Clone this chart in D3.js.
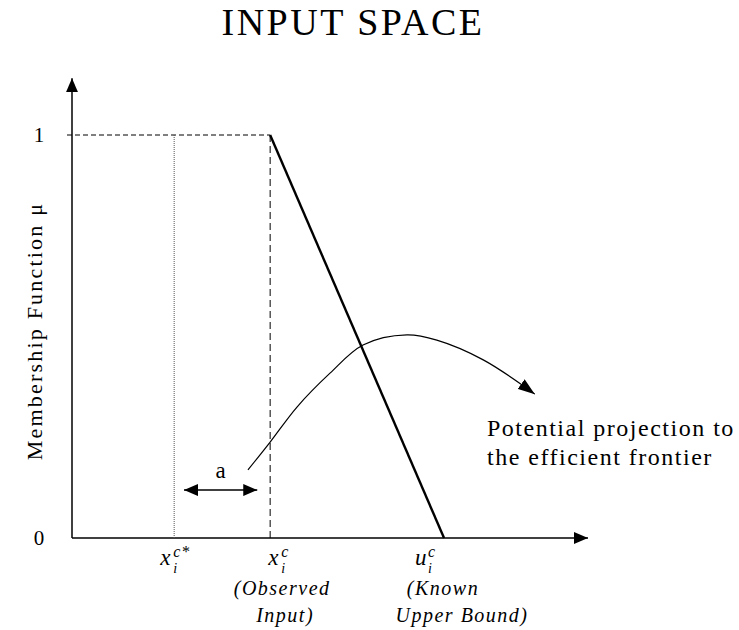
<!DOCTYPE html>
<html>
<head>
<meta charset="utf-8">
<script src="https://cdn.jsdelivr.net/npm/d3@7"></script>
<style>
  body { margin: 0; background: #fff; }
  text { font-family: "Liberation Serif", "Times New Roman", serif; fill: #000; }
</style>
</head>
<body>
<svg id="chart" width="739" height="630"></svg>
<script>
// membership levels shown on the y axis
var yTicks = [0, 1];
// input positions on the x axis (arbitrary input units)
var inputNames = ["xStar", "xObs", "uBound"];
var inputValues = [19.8, 38.4, 72.1];
// the membership function: flat at 1 up to the observed input, then falling to 0 at the upper bound
var muX = [0, 38.4, 72.1];
var muY = [1, 1, 0];
// the projection path towards the efficient frontier
var pathX = [34.1, 38.4, 43.6, 50.0, 56.4, 64.9, 70.7, 79.7, 89.7];
var pathY = [0.169, 0.238, 0.325, 0.409, 0.479, 0.504, 0.491, 0.442, 0.357];
// the distance "a" between the projected and the observed input
var gapX = [21.7, 35.9];
var gapY = 0.119;

var svg = d3.select("#chart");

var x = d3.scaleLinear().domain([0, 100]).range([72, 588]);
var y = d3.scaleLinear().domain([0, 1]).range([538, 135]);

/* arrow heads */
var defs = svg.append("defs");
function head(id, len, wid, orient) {
  defs.append("marker").attr("id", id)
    .attr("viewBox", "0 0 " + len + " " + wid).attr("refX", len).attr("refY", wid / 2)
    .attr("markerUnits", "userSpaceOnUse").attr("markerWidth", len).attr("markerHeight", wid)
    .attr("orient", orient)
    .append("path").attr("d", "M0,0L" + len + "," + (wid / 2) + "L0," + wid + "Z").attr("fill", "#000");
}
head("axisHead", 14, 12, "auto");
head("gapHead", 14, 12, "auto-start-reverse");
head("pathHead", 17, 12, "auto");

/* title */
svg.append("text").attr("x", 353).attr("y", 35).attr("text-anchor", "middle")
  .attr("font-size", 38).attr("letter-spacing", 2.5).text("INPUT SPACE");

/* axes */
svg.append("line").attr("x1", x(0)).attr("y1", y(0)).attr("x2", x(0)).attr("y2", y(1.141))
  .attr("stroke", "#000").attr("stroke-width", 1.5).attr("marker-end", "url(#axisHead)");
svg.append("line").attr("x1", x(0)).attr("y1", y(0)).attr("x2", x(100)).attr("y2", y(0))
  .attr("stroke", "#000").attr("stroke-width", 1.5).attr("marker-end", "url(#axisHead)");

svg.selectAll(".ytick").data(yTicks).enter().append("text")
  .attr("class", "ytick")
  .attr("x", 39).attr("y", function(d) { return y(d) + 7; })
  .attr("text-anchor", "middle").attr("font-size", 21)
  .text(function(d) { return d; });

svg.append("text")
  .attr("transform", "translate(42,331) rotate(-90)")
  .attr("text-anchor", "middle").attr("font-size", 22).attr("letter-spacing", 2.2)
  .text("Membership Function \u03bc");

/* guide lines */
svg.append("line").attr("x1", x(0) - 5).attr("y1", y(1)).attr("x2", x(muX[1])).attr("y2", y(1))
  .attr("stroke", "#000").attr("stroke-width", 1).attr("stroke-dasharray", "5,3");
svg.append("line").attr("x1", x(inputValues[1])).attr("y1", y(1)).attr("x2", x(inputValues[1])).attr("y2", y(0))
  .attr("stroke", "#000").attr("stroke-width", 1).attr("stroke-dasharray", "7,4");
svg.append("line").attr("x1", x(inputValues[0])).attr("y1", y(1)).attr("x2", x(inputValues[0])).attr("y2", y(0))
  .attr("stroke", "#555").attr("stroke-width", 1).attr("stroke-dasharray", "1,1");

/* membership function descent */
svg.append("line").attr("x1", x(muX[1])).attr("y1", y(muY[1])).attr("x2", x(muX[2])).attr("y2", y(muY[2]))
  .attr("stroke", "#000").attr("stroke-width", 2.4);

/* projection path */
var pts = pathX.map(function(v, i) { return [x(v), y(pathY[i])]; });
svg.append("path").attr("d", d3.line().curve(d3.curveCatmullRom)(pts))
  .attr("fill", "none").attr("stroke", "#000").attr("stroke-width", 1.2)
  .attr("marker-end", "url(#pathHead)");

svg.append("text").attr("x", 487).attr("y", 436).attr("font-size", 24)
  .attr("letter-spacing", 1.5).text("Potential projection to");
svg.append("text").attr("x", 487).attr("y", 465).attr("font-size", 24)
  .attr("letter-spacing", 1.5).text("the efficient frontier");

/* gap a */
svg.append("line").attr("x1", x(gapX[0])).attr("y1", y(gapY)).attr("x2", x(gapX[1])).attr("y2", y(gapY))
  .attr("stroke", "#000").attr("stroke-width", 1.5)
  .attr("marker-start", "url(#gapHead)").attr("marker-end", "url(#gapHead)");
svg.append("text").attr("x", (x(gapX[0]) + x(gapX[1])) / 2).attr("y", 478)
  .attr("text-anchor", "middle").attr("font-size", 23).text("a");

/* input labels */
var symbols = { xStar: ["x", "c*"], xObs: ["x", "c"], uBound: ["u", "c"] };
var symbolShift = { xStar: -14, xObs: -2, uBound: -29 };
var notes = { xStar: [], xObs: ["(Observed", "Input)"], uBound: ["(Known", "Upper Bound)"] };
var noteShift = { xStar: [0, 0], xObs: [12, 15], uBound: [-1, 18] };

inputNames.forEach(function(name, i) {
  var cx = x(inputValues[i]);
  var lx = cx + symbolShift[name];
  svg.append("text").attr("x", lx).attr("y", 565)
    .attr("font-size", 23).attr("font-style", "italic").text(symbols[name][0]);
  svg.append("text").attr("x", lx + 13).attr("y", 573).attr("font-size", 14)
    .attr("font-style", "italic").text("i");
  svg.append("text").attr("x", lx + 13).attr("y", 557).attr("font-size", 16)
    .attr("font-style", "italic").attr("letter-spacing", 1).text(symbols[name][1]);
  notes[name].forEach(function(line, j) {
    svg.append("text").attr("x", cx + noteShift[name][j]).attr("y", 595 + j * 27)
      .attr("text-anchor", "middle").attr("font-size", 20).attr("font-style", "italic")
      .attr("letter-spacing", 1.5).text(line);
  });
});
</script>
</body>
</html>
